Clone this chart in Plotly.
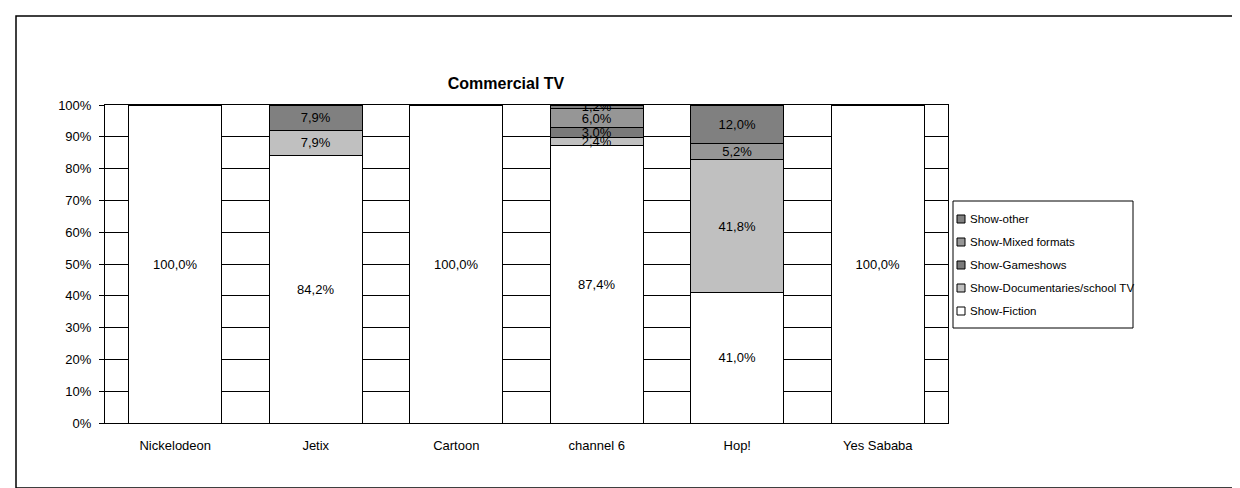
import plotly.graph_objects as go

W, H = 1240, 488
# plot area in pixels (left, top, right, bottom)
PL, PT, PR, PB = 97, 97, 940, 415

channels = ["Nickelodeon", "Jetix", "Cartoon", "channel 6", "Hop!", "Yes Sababa"]
fiction = [100.0, 84.2, 100.0, 87.4, 41.0, 100.0]
documentaries = [0, 7.9, 0, 2.4, 41.8, 0]
gameshows = [0, 0, 0, 3.0, 0, 0]
mixed = [0, 0, 0, 6.0, 5.2, 0]
other = [0, 7.9, 0, 1.2, 12.0, 0]

series = [
    ("Show-Fiction", fiction, "#ffffff"),
    ("Show-Documentaries/school TV", documentaries, "#c0c0c0"),
    ("Show-Gameshows", gameshows, "#7a7a7a"),
    ("Show-Mixed formats", mixed, "#969696"),
    ("Show-other", other, "#808080"),
]

FONT = "Liberation Sans, Arial, sans-serif"


def fmt(v):
    return f"{v:.1f}%".replace(".", ",") if v else ""


def px_x(x):
    return (x - PL) / (PR - PL)


def px_y(y):
    return (PB - y) / (PB - PT)


fig = go.Figure()
for name, vals, color in series:
    fig.add_trace(go.Bar(
        x=channels, y=[v if v else None for v in vals], name=name,
        marker=dict(color=color, line=dict(color="black", width=1)),
        text=[fmt(v) for v in vals], textposition="inside",
        insidetextanchor="middle", textangle=0,
        textfont=dict(color="black", size=13),
        showlegend=False,
    ))

# legend drawn by hand: box, small outlined squares, labels (Excel style)
LX0, LX1, LY0, LY1 = 945, 1125, 193, 320
fig.add_shape(type="rect", xref="paper", yref="paper",
              x0=px_x(LX0), x1=px_x(LX1), y0=px_y(LY1), y1=px_y(LY0),
              line=dict(color="black", width=1), fillcolor="white")
for k, (name, vals, color) in enumerate(reversed(series)):
    cy = 211 + 23 * k
    fig.add_shape(type="rect", xref="paper", yref="paper",
                  x0=px_x(949), x1=px_x(957), y0=px_y(cy + 4), y1=px_y(cy - 4),
                  line=dict(color="black", width=1), fillcolor=color)
    fig.add_annotation(text=name, xref="paper", yref="paper",
                       x=px_x(960), y=px_y(cy), xanchor="left", yanchor="middle",
                       showarrow=False, font=dict(size=11.5, family=FONT, color="black"))

fig.update_layout(
    width=W, height=H,
    barmode="stack", bargap=0.34,
    paper_bgcolor="white", plot_bgcolor="white",
    font=dict(family=FONT, size=13, color="black"),
    margin=dict(l=PL, r=W - PR, t=PT, b=H - PB),
    uniformtext=dict(minsize=13, mode="show"),
    title=dict(text="<b>Commercial TV</b>", x=px_x(498), xanchor="center", xref="paper",
               y=1 - 75 / H, yanchor="middle", font=dict(size=16, family=FONT)),
    showlegend=False,
)
fig.update_yaxes(
    range=[0, 100], dtick=10, ticksuffix="%",
    showgrid=True, gridcolor="black", gridwidth=1,
    showline=True, linecolor="black", linewidth=1, mirror=True,
    ticks="outside", ticklen=5, tickcolor="black", ticklabelstandoff=5,
    zeroline=False,
)
fig.update_xaxes(
    showline=True, linecolor="black", linewidth=1, mirror=True,
    ticks="", ticklabelstandoff=10,
)

# outer chart border
fig.add_shape(type="rect", xref="paper", yref="paper",
              x0=px_x(8), x1=px_x(1232), y0=px_y(480), y1=px_y(8),
              line=dict(color="black", width=1.5), fillcolor="rgba(0,0,0,0)", layer="below")

fig.write_html("out.html")
